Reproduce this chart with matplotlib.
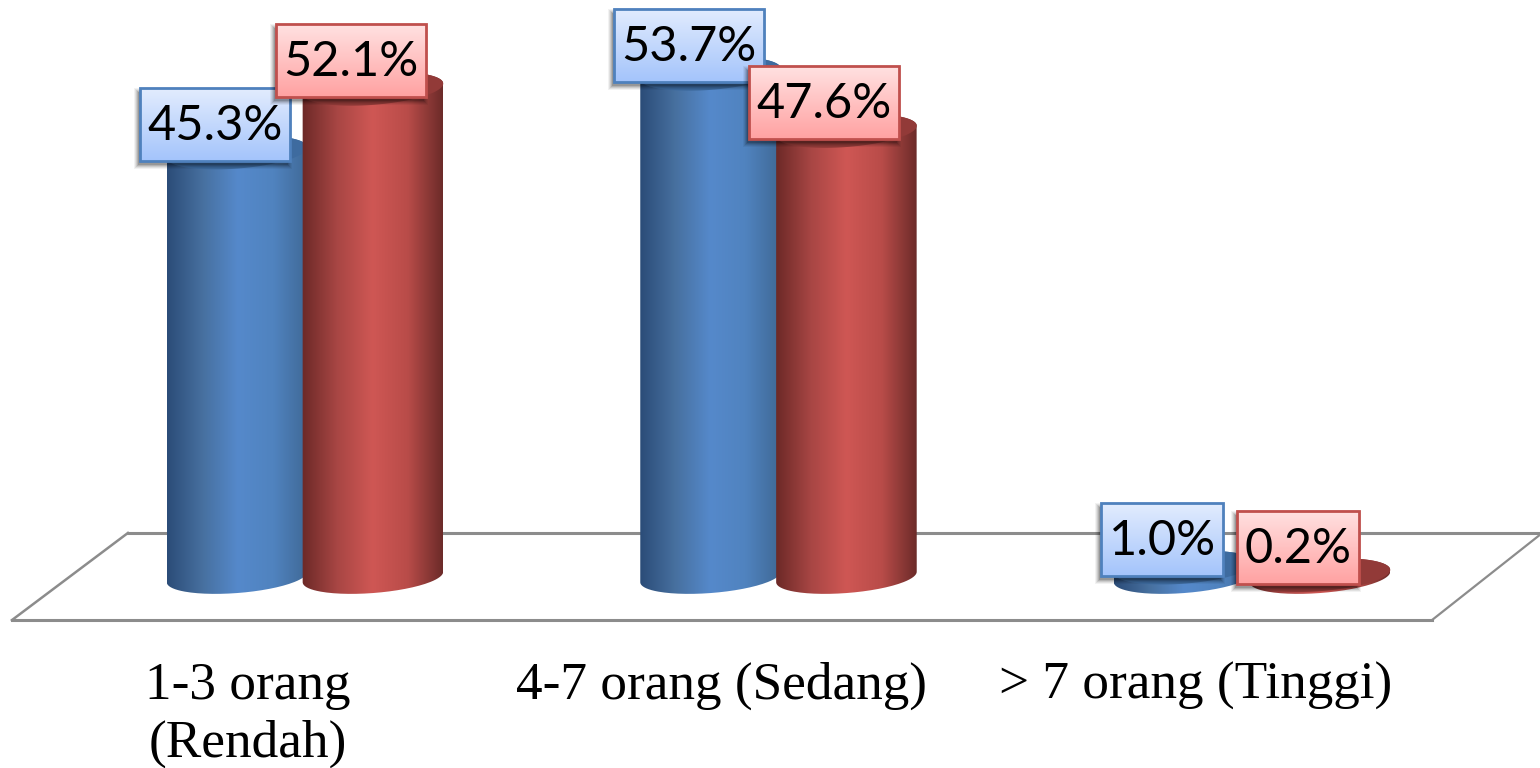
import numpy as np
import matplotlib
matplotlib.use("Agg")
import matplotlib.pyplot as plt
from matplotlib.colors import LinearSegmentedColormap
from matplotlib.path import Path
from matplotlib.patches import Polygon, Rectangle

categories = ["1-3 orang\n(Rendah)", "4-7 orang (Sedang)", "> 7 orang (Tinggi)"]
blue_values = [45.3, 53.7, 1.0]
red_values = [52.1, 47.6, 0.2]

# pixels per unit on each axis
PX_X = 473.5
PX_Y = 9.37
W, H = 1540, 768

BAR_R = 70.5 / PX_X
BAR_B = 16.0
TILT = np.radians(4.5)
OFFSET = 0.1435

blue_style = dict(
    stops=["#2b4c78", "#47709f", "#5589cb", "#5083bf", "#3f6895"],
    cap="#3e6b9f", edge="#4f81bd", top="#e2ecfe", bottom="#a4c4fb")
red_style = dict(
    stops=["#6c2927", "#a84644", "#cf5754", "#b94c49", "#6c2b29"],
    cap="#923a38", edge="#c0504d", top="#ffe1e1", bottom="#ffa2a2")

fig = plt.figure(figsize=(W / 100, H / 100), dpi=100, facecolor="white")
ax = fig.add_axes([0, 0, 1, 1])
ax.axis("off")
x0 = -305 / PX_X
x1 = (W - 305) / PX_X
y0 = (577 - H) / PX_Y
y1 = 577 / PX_Y


def ellipse(cx, v, t):
    # tilted ellipse outline, the left end sits lower than the right
    a = BAR_R * PX_X
    ex = a * np.cos(t) * np.cos(TILT) + BAR_B * np.sin(t) * np.sin(TILT)
    ey = a * np.cos(t) * np.sin(TILT) - BAR_B * np.sin(t) * np.cos(TILT)
    return np.column_stack([cx + ex / PX_X, v + ey / PX_Y])


def cylinder(cx, v, style, z):
    cmap = LinearSegmentedColormap.from_list("body", style["stops"])
    lower = ellipse(cx, 0, np.linspace(np.pi, 0, 80))
    upper = ellipse(cx, v, np.linspace(2 * np.pi, np.pi, 80))
    body = Path(np.vstack([lower, upper, lower[:1]]))
    im = ax.imshow(np.linspace(0, 1, 256).reshape(1, -1), cmap=cmap, aspect="auto",
                   extent=(cx - BAR_R, cx + BAR_R, -4, v + 4), zorder=z)
    im.set_clip_path(body, ax.transData)
    cap = ellipse(cx, v, np.linspace(0, 2 * np.pi, 160))
    ax.add_patch(Polygon(cap, closed=True, fc=style["cap"], ec="none", zorder=z + 0.1))


def label_box(cx, v, text, style, z):
    w = (10 + 28 * len(text)) / PX_X
    h = 73 / PX_Y
    bx = cx - 22 / PX_X
    by = v + 28 / PX_Y
    left, bottom = bx - w / 2, by - h / 2
    # soft drop shadow below and to the left
    for grow, alpha in [(4, 0.05), (3, 0.07), (2, 0.09), (1, 0.12), (0, 0.15)]:
        ax.add_patch(Rectangle((left - (grow + 2) / PX_X, bottom - (grow + 4) / PX_Y),
                               w + 2 * grow / PX_X, h + 2 * grow / PX_Y,
                               fc="black", ec="none", alpha=alpha, zorder=z))
    cmap = LinearSegmentedColormap.from_list("box", [style["bottom"], style["top"]])
    ax.imshow(np.linspace(1, 0, 64).reshape(-1, 1), cmap=cmap, aspect="auto",
              extent=(left, left + w, bottom, bottom + h), zorder=z + 0.1)
    ax.add_patch(Rectangle((left, bottom), w, h, fc="none", ec=style["edge"], lw=2.0,
                           zorder=z + 0.2))
    ax.text(bx, by - 1.5 / PX_Y, text, ha="center", va="center", fontsize=35,
            family="Lato", color="black", zorder=z + 0.3)


# floor of the chart
floor_x = [-0.619, 2.38, 2.608, -0.374, -0.619]
floor_y = [-4.6, -4.6, 4.5, 4.7, -4.6]
ax.plot(floor_x[:2], floor_y[:2], color="#8c8c8c", lw=2.2, zorder=1)
ax.plot(floor_x[1:3], floor_y[1:3], color="#8c8c8c", lw=1.6, zorder=1)
ax.plot(floor_x[3:], floor_y[3:], color="#8c8c8c", lw=1.8, zorder=1)
ax.plot([-0.374, x1], [4.7, 4.7], color="#8c8c8c", lw=2.2, zorder=1)

z = 2
for i in range(len(categories)):
    cylinder(i - OFFSET, blue_values[i], blue_style, z)
    cylinder(i + OFFSET, red_values[i], red_style, z + 1)
    z += 2

z = 20
for i in range(len(categories)):
    label_box(i - OFFSET, blue_values[i], f"{blue_values[i]:.1f}%", blue_style, z)
    label_box(i + OFFSET, red_values[i], f"{red_values[i]:.1f}%", red_style, z + 1)
    z += 2

for i, cat in enumerate(categories):
    ax.text(i - 0.12, -9.05, cat, ha="center", va="top", fontsize=38.3,
            family="Liberation Serif", color="black", linespacing=1.27, zorder=30)

ax.set_xlim(x0, x1)
ax.set_ylim(y0, y1)
fig.savefig("out.png", dpi=100)
